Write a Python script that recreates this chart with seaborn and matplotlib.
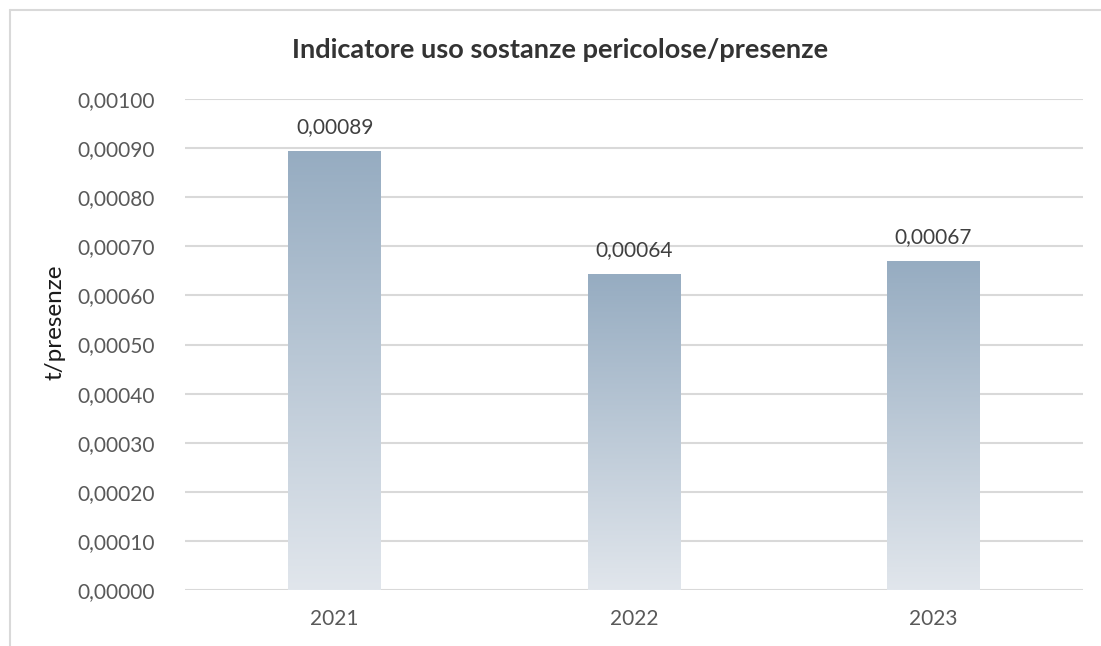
import numpy as np
import pandas as pd
import matplotlib.pyplot as plt
import seaborn as sns
from matplotlib.colors import LinearSegmentedColormap
from matplotlib.lines import Line2D

# data
years = ['2021', '2022', '2023']
values = [0.000894, 0.000643, 0.000671]
value_labels = ['0,00089', '0,00064', '0,00067']
yticks = [0.0, 0.0001, 0.0002, 0.0003, 0.0004, 0.0005, 0.0006, 0.0007, 0.0008, 0.0009, 0.0010]

sns.set_style('white')
plt.rcParams['font.family'] = ['Lato', 'DejaVu Sans']

df = pd.DataFrame({'year': years, 'value': values})

fig = plt.figure(figsize=(11.01, 6.46), dpi=100)
ax = fig.add_axes([0.168, 0.0867, 0.8157, 0.76])

sns.barplot(data=df, x='year', y='value', color='#96ACC1', width=0.31, ax=ax,
            zorder=3, saturation=1)

# vertical gradient inside each bar
grad_cmap = LinearSegmentedColormap.from_list('bar', ['#E1E6EC', '#96ACC1'])
grad = np.linspace(0, 1, 256).reshape(-1, 1)
for patch in ax.patches:
    x0, y0 = patch.get_x(), patch.get_y()
    w, h = patch.get_width(), patch.get_height()
    img = ax.imshow(grad, cmap=grad_cmap, origin='lower', aspect='auto',
                    extent=[x0, x0 + w, y0, y0 + h], zorder=3)
    img.set_clip_path(patch)
    patch.set_facecolor('none')
    patch.set_edgecolor('none')

ax.set_xlim(-0.5, 2.5)
ax.set_ylim(0, 0.001)
ax.set_yticks(yticks)
ax.set_yticklabels([f'{v:.5f}'.replace('.', ',') for v in yticks])
ax.yaxis.grid(True, color='#D9D9D9', linewidth=1.5, zorder=0)
ax.set_axisbelow(True)
for s in ax.spines.values():
    s.set_visible(False)
ax.axhline(0, color='#D9D9D9', linewidth=1.8, zorder=2)
ax.tick_params(axis='both', length=0, labelsize=15, labelcolor='#595959')
ax.tick_params(axis='y', pad=22)
ax.tick_params(axis='x', pad=14)
ax.set_xlabel('')
ax.set_ylabel('t/presenze', fontsize=17.5, color='#1a1a1a')
ax.yaxis.set_label_coords(-0.1325, 0.546)

for i, (v, lab) in enumerate(zip(values, value_labels)):
    ax.annotate(lab, (i, v), xytext=(0, 10), textcoords='offset points',
                ha='center', va='bottom', fontsize=15, color='#404040')

fig.suptitle('Indicatore uso sostanze pericolose/presenze', x=0.509, y=0.923,
             va='center', fontsize=19.5, fontweight='bold', color='#333333')

# chart frame (top and left edges visible)
fig.add_artist(Line2D([0.0095, 0.0095], [0.0, 0.984], transform=fig.transFigure,
                      color='#D9D9D9', linewidth=1.5))
fig.add_artist(Line2D([0.0095, 1.0], [0.984, 0.984], transform=fig.transFigure,
                      color='#D9D9D9', linewidth=1.5))

fig.savefig('out.png', dpi=100)
